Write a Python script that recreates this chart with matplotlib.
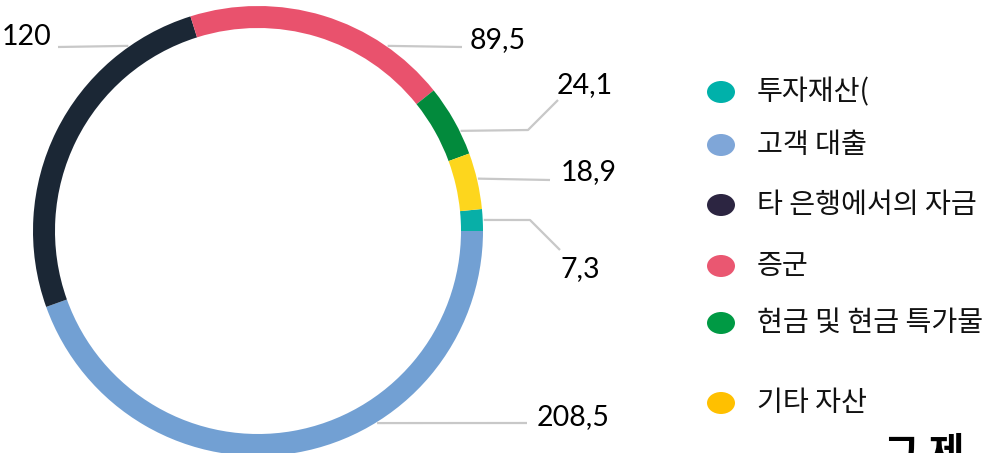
#!/usr/bin/python3

import numpy as np
import matplotlib
matplotlib.use('Agg')
import matplotlib.pyplot as plt
from matplotlib.patches import Ellipse

# data (legend order)
categories = ['투자재산(', '고객 대출', '타 은행에서의 자금', '증군', '현금 및 현금 특가물', '기타 자산']
values = [7.3, 208.5, 120, 89.5, 24.1, 18.9]
value_labels = ['7,3', '208,5', '120', '89,5', '24,1', '18,9']

ring_colors = ['#08AFA7', '#72A0D3', '#1B2735', '#E9526D', '#028A3C', '#FDD61D']
legend_colors = ['#00B1AA', '#7FA6D8', '#2C2541', '#EA5771', '#009A44', '#FFC000']

W, H = 987, 453


def main():
	''' draw the donut chart '''

	fig = plt.figure(figsize=(W / 100, H / 100), dpi=100)
	ax = fig.add_axes([0, 0, 1, 1])

	cx, cy = 258, H - 231
	R = 225

	# teal starts just above 3 o'clock, then goes clockwise
	start = 360.0 * values[0] / sum(values)
	ax.pie(values, colors=ring_colors, startangle=start, counterclock=False,
		radius=R, center=(cx, cy),
		wedgeprops=dict(width=22, edgecolor='none', linewidth=0))

	# label layout: angle on ring, rest of leader path, text pos, alignment (image coords)
	layout = [
		(2.8, [(530, 220), (560, 250)], (561, 277), 'left'),
		(-58.2, [(527, 423)], (537, 425), 'left'),
		(125, [(58, 47)], (51, 45), 'right'),
		(55, [(462, 47)], (470, 48), 'left'),
		(26.3, [(528, 130), (558, 100)], (557, 93), 'left'),
		(13.4, [(550, 180)], (561, 180), 'left'),
	]

	for lab, (ang, path, txt, ha) in zip(value_labels, layout):
		a = np.deg2rad(ang)
		xs = [cx + (R + 1) * np.cos(a)] + [p[0] for p in path]
		ys = [cy + (R + 1) * np.sin(a)] + [H - p[1] for p in path]
		ax.plot(xs, ys, color='#C8C8C8', lw=1.6, solid_capstyle='butt')
		ax.text(txt[0], H - txt[1], lab, ha=ha, va='baseline',
			fontsize=20.5, family=['Lato', 'DejaVu Sans'], color='black')

	# legend
	rows = [92, 145, 205, 266, 323, 403]
	for name, col, y in zip(categories, legend_colors, rows):
		ax.add_patch(Ellipse((721, H - y), 28, 22, facecolor=col, edgecolor='none'))
		ax.text(757, H - y, name, ha='left', va='center', fontsize=20.3,
			family=['Noto Sans CJK KR', 'DejaVu Sans'], color='#111111')

	# title, cut off at the bottom edge
	ax.text(884, H - 435, '그 제', ha='left', va='top', fontsize=28, fontweight='bold',
		family=['Noto Sans CJK KR', 'DejaVu Sans'], color='black')

	ax.set_xlim(0, W)
	ax.set_ylim(0, H)
	ax.set_aspect('equal')
	ax.axis('off')

	plt.savefig('out.png', dpi=100)
	plt.close()
	return


if __name__ == '__main__':
	main()
